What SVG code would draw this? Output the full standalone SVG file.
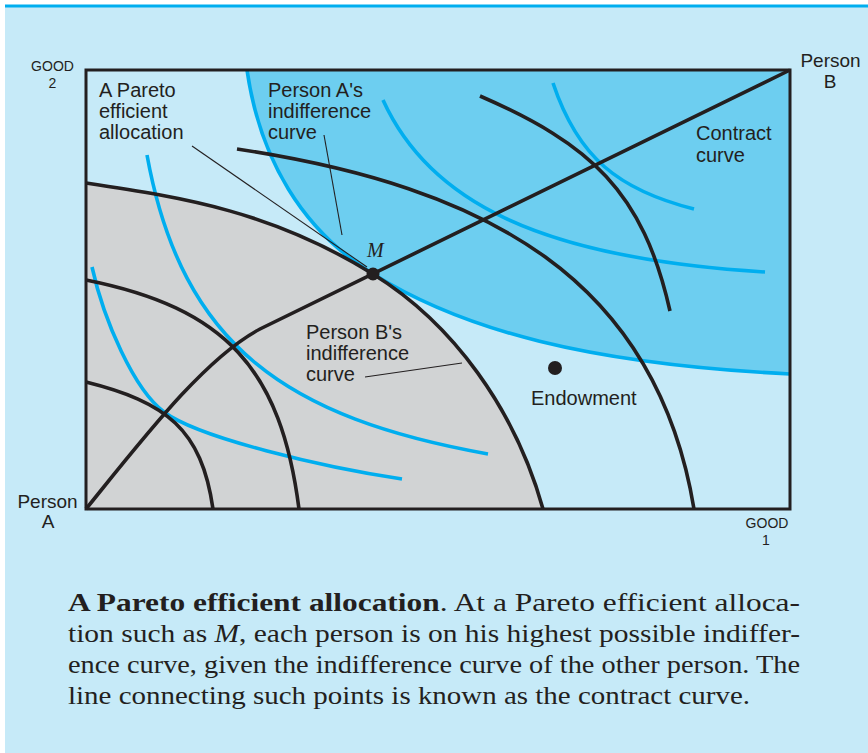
<svg xmlns="http://www.w3.org/2000/svg" width="868" height="753" viewBox="0 0 868 753">
  <style>
    .lbl { font-family: "Liberation Sans", Arial, sans-serif; font-size: 20px; fill: #231f20; }
    .ax { font-family: "Liberation Sans", Arial, sans-serif; font-size: 14px; fill: #231f20; text-anchor: middle; }
    .per { font-family: "Liberation Sans", Arial, sans-serif; font-size: 19px; fill: #231f20; text-anchor: middle; }
    .cap { font-family: "Liberation Serif", "Times New Roman", serif; font-size: 25px; fill: #231f20; }
    .blk { fill: none; stroke: #231f20; stroke-width: 3.6; stroke-linecap: butt; }
    .blu { fill: none; stroke: #00aeef; stroke-width: 3.6; stroke-linecap: butt; }
    .lead { fill: none; stroke: #231f20; stroke-width: 1.1; }
  </style>
  <rect x="5" y="5" width="863" height="748" fill="#c6eaf8"/>
  <rect x="5" y="4.5" width="863" height="3" fill="#00aeef"/>

  <g id="regions">
    <path id="blue-region" d="M247,70 C260,160 303,230.6 373,274 C463,330 588,364 790,374 L790,70 Z" fill="#6dcef0"/>
    <path id="gray-region" d="M86,183 C186,198 273,212 373,274 C453,323.6 515,409 543,509 L86,509 Z" fill="#d1d3d4"/>
  </g>

  <g id="curves">
    <path class="blu" d="M92,267 C104,321 134,389.5 164,412 C199,438 322,467 402,479"/>
    <path class="blu" d="M147,155 C182,347.5 288,418 488,454"/>
    <path class="blu" d="M247,70 C260,160 303,230.6 373,274 C463,330 588,364 790,374"/>
    <path class="blu" d="M383,100 C428,199 535,258 765,272"/>
    <path class="blu" d="M553,83 C578,158 619,190 694,209"/>

    <path class="blk" d="M86,382 C166,402 201.6,429 213,509"/>
    <path class="blk" d="M86,280 C226,308 281,369 299,509"/>
    <path class="blk" d="M86,183 C186,198 273,212 373,274 C453,323.6 515,409 543,509"/>
    <path class="blk" d="M237,149 C487,186.5 656,279 694,509"/>
    <path class="blk" d="M480,96 C590,144 643,191 670,311"/>
  </g>

  <g id="connectors">
    <path id="contract-curve" class="blk" d="M86,509 C145,436 205,358 260,329 L790,70"/>
    <line class="lead" x1="192" y1="146" x2="367" y2="267"/>
    <line class="lead" x1="324" y1="135" x2="342" y2="235"/>
    <line class="lead" x1="365" y1="377" x2="462" y2="363"/>
  </g>

  <rect id="box" x="86" y="70" width="704" height="439" fill="none" stroke="#231f20" stroke-width="3"/>

  <g id="point-M">
    <circle cx="373" cy="274" r="6.5" fill="#231f20"/>
    <text x="367" y="257" font-family="Liberation Serif, serif" font-style="italic" font-size="20" fill="#231f20">M</text>
  </g>
  <g id="endowment">
    <circle cx="555" cy="368" r="7" fill="#231f20"/>
    <text class="lbl" x="531" y="405">Endowment</text>
  </g>

  <g id="labels">
    <text class="ax" x="52.5" y="71">GOOD</text>
    <text class="ax" x="52.5" y="88">2</text>
    <text class="ax" x="767" y="528">GOOD</text>
    <text class="ax" x="766" y="545">1</text>
    <text class="per" x="830.5" y="67">Person</text>
    <text class="per" x="830" y="88">B</text>
    <text class="per" x="47.5" y="508">Person</text>
    <text class="per" x="48" y="528">A</text>
    <text class="lbl" x="99" y="97">A Pareto</text>
    <text class="lbl" x="99" y="118">efficient</text>
    <text class="lbl" x="99" y="139">allocation</text>
    <text class="lbl" x="268" y="97">Person A's</text>
    <text class="lbl" x="268" y="118">indifference</text>
    <text class="lbl" x="268" y="139">curve</text>
    <text class="lbl" x="696" y="140">Contract</text>
    <text class="lbl" x="696" y="162">curve</text>
    <text class="lbl" x="306" y="339">Person B's</text>
    <text class="lbl" x="306" y="360">indifference</text>
    <text class="lbl" x="306" y="381">curve</text>
  </g>

  <g id="caption">
    <text class="cap" x="68" y="611" textLength="732" lengthAdjust="spacingAndGlyphs"><tspan font-weight="bold">A Pareto efficient allocation</tspan>.  At a Pareto efficient alloca-</text>
    <text class="cap" x="68" y="642" textLength="732" lengthAdjust="spacingAndGlyphs">tion such as <tspan font-style="italic">M</tspan>, each person is on his highest possible indiffer-</text>
    <text class="cap" x="68" y="673" textLength="732" lengthAdjust="spacingAndGlyphs">ence curve, given the indifference curve of the other person. The</text>
    <text class="cap" x="68" y="704" textLength="682" lengthAdjust="spacingAndGlyphs">line connecting such points is known as the contract curve.</text>
  </g>
</svg>
